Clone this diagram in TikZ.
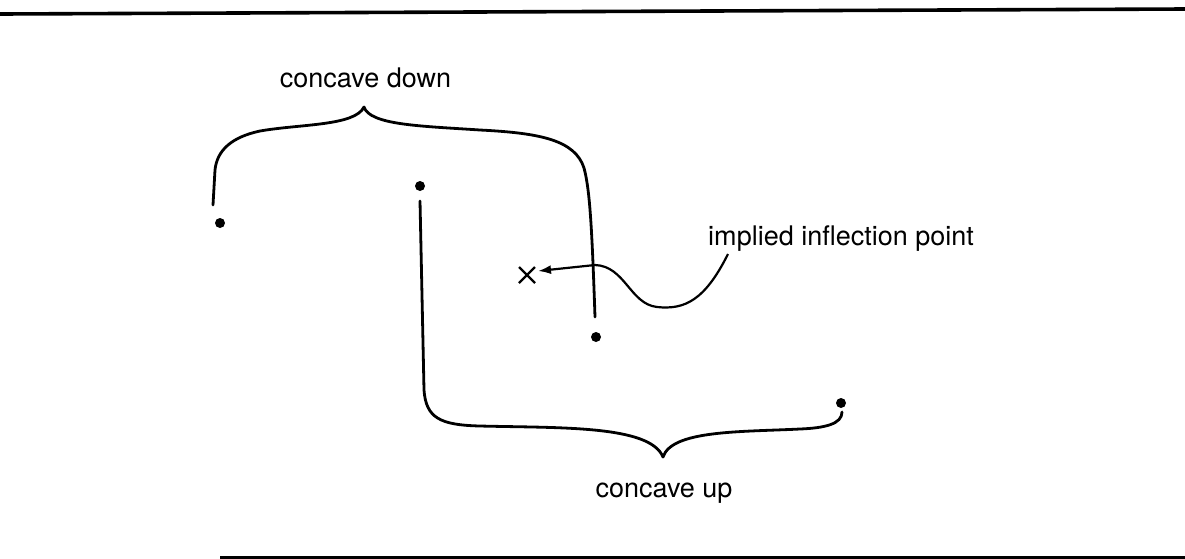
\documentclass[tikz,border=0pt]{standalone}
\usepackage{fontspec}
\setmainfont{TeX Gyre Heros}
\usetikzlibrary{arrows.meta,calc}
\begin{document}
\begin{tikzpicture}[x=1pt,y=-1pt,
  dotmark/.style={circle,fill=black,inner sep=0pt,minimum size=10pt},
  bracepath/.style={line width=2.8pt,line cap=round,line join=round},
  rule/.style={line width=3.6pt},
  lbl/.style={inner sep=0pt,font=\fontsize{27}{30}\selectfont}]
\useasboundingbox (0,0) rectangle (1185,558);
% page rules
\coordinate (tl) at (0,14);
\coordinate (tr) at (1185,9);
\draw[rule] (tl) -- (tr);
\coordinate (bl) at (220,558);
\coordinate (br) at (1185,558);
\draw[rule] (bl) -- (br);
% data points
\node[dotmark] (A) at (220,223) {};
\node[dotmark] (B) at (420,186) {};
\node[dotmark] (C) at (596,337) {};
\node[dotmark] (D) at (841,403) {};
% brace ends
\coordinate (a1) at (213,205);
\coordinate (c1) at (595,317);
\coordinate (b1) at (420,201);
\coordinate (d1) at (842,412);
% concave down brace
\draw[bracepath] (a1) -- (215,170) .. controls (217,150) and (232,137) .. (260,131)
  .. controls (300,124) and (355,126) .. (364,107)
  .. controls (370,125) and (420,126) .. (480,130)
  .. controls (540,133) and (575,140) .. (584,168)
  .. controls (590,190) and (592,230) .. (c1);
% concave up brace
\draw[bracepath] (b1) -- (424,390) .. controls (426,418) and (440,425) .. (480,426)
  .. controls (560,428) and (650,425) .. (663,457)
  .. controls (672,430) and (740,432) .. (800,429)
  .. controls (825,428) and (842,424) .. (d1);
% labels
\node[lbl,anchor=base] (cd) at (365.5,87) {concave down};
\node[lbl,anchor=base] (cu) at (664,497) {concave up};
\node[lbl,anchor=base west] (ip) at (708,245) {implied inflection point};
% inflection mark
\coordinate (X) at (527,275);
\draw[line width=2.2pt] ($(X)+(-8,-8)$) -- ($(X)+(8,8)$);
\draw[line width=2.2pt] ($(X)+(-8,8)$) -- ($(X)+(8,-8)$);
\coordinate (pstart) at (728,254);
\coordinate (pend) at (538,271);
\draw[line width=2.2pt,-{Latex[length=13pt,width=9pt]}] (pstart)
  .. controls (705,300) and (685,310) .. (657,307)
  .. controls (630,304) and (625,266) .. (595,265)
  -- (pend);
\end{tikzpicture}
\end{document}
